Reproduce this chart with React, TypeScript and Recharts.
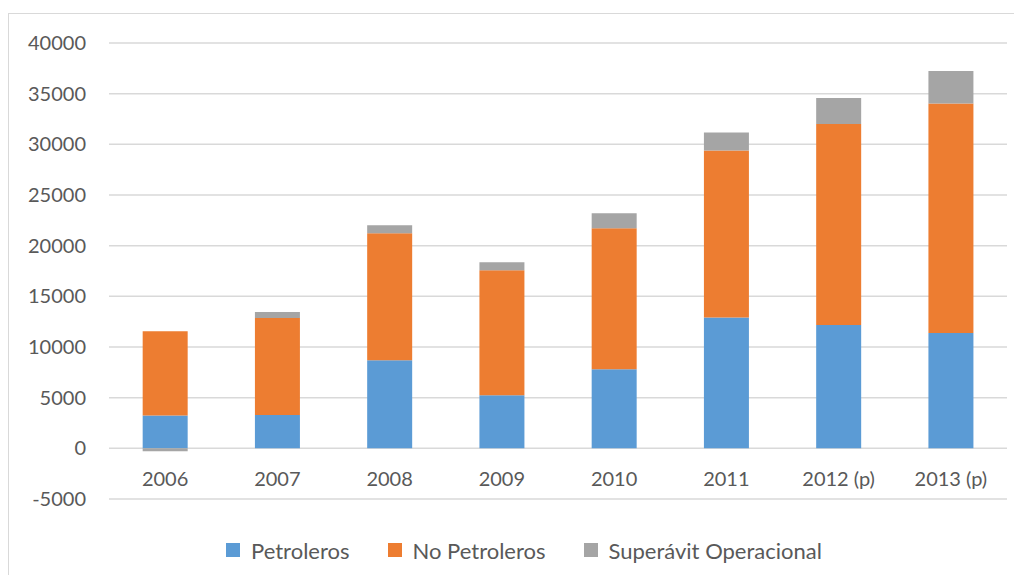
import React from 'react';
import { BarChart, Bar, XAxis, YAxis, CartesianGrid, Legend } from 'recharts';

const years = ['2006', '2007', '2008', '2009', '2010', '2011', '2012 (p)', '2013 (p)'];
const petroleros = [3250, 3300, 8690, 5230, 7800, 12900, 12180, 11390];
const noPetroleros = [8300, 9550, 12540, 12350, 13930, 16500, 19820, 22650];
const superavit = [-300, 600, 790, 790, 1480, 1780, 2570, 3190];
const yTicks = [-5000, 0, 5000, 10000, 15000, 20000, 25000, 30000, 35000, 40000];

const series = [
  { key: 'petroleros', name: 'Petroleros', color: '#5B9BD5' },
  { key: 'noPetroleros', name: 'No Petroleros', color: '#ED7D31' },
  { key: 'superavit', name: 'Superávit Operacional', color: '#A5A5A5' },
];

const data = years.map((year, i) => ({
  year,
  petroleros: petroleros[i],
  noPetroleros: noPetroleros[i],
  superavit: superavit[i],
}));

const FONT = 'Lato, "Open Sans", sans-serif';
const TEXT = '#595959';

const XTick = (props: any) => {
  const { x, y, payload } = props;
  return (
    <text x={x} y={y - 13} textAnchor="middle" fill={TEXT} fontSize={20} fontFamily={FONT}>
      {payload.value}
    </text>
  );
};

const LegendContent = () => (
  <div
    style={{
      display: 'flex',
      justifyContent: 'center',
      alignItems: 'center',
      height: 30,
      paddingLeft: 32,
      fontFamily: FONT,
      fontSize: 22,
      color: TEXT,
    }}
  >
    {series.map((s) => (
      <div key={s.key} style={{ display: 'flex', alignItems: 'center', margin: '0 19px' }}>
        <span style={{ width: 14, height: 14, background: s.color, marginRight: 11, display: 'inline-block' }} />
        <span>{s.name}</span>
      </div>
    ))}
  </div>
);

export default function App() {
  return (
    <div
      style={{
        marginTop: 5,
        width: 1006,
        height: 562,
        borderTop: '1px solid #D9D9D9',
        borderLeft: '1px solid #D9D9D9',
        boxSizing: 'border-box',
        background: '#fff',
      }}
    >
      <BarChart
        width={1005}
        height={561}
        data={data}
        stackOffset="sign"
        barCategoryGap="30%"
        margin={{ top: 29, right: 7, left: 0, bottom: 10 }}
      >
        <CartesianGrid vertical={false} stroke="#D9D9D9" strokeWidth={1.5} />
        <XAxis
          dataKey="year"
          axisLine={false}
          tickLine={false}
          tickSize={0}
          tickMargin={0}
          height={36}
          tick={<XTick />}
          interval={0}
        />
        <YAxis
          domain={[-5000, 40000]}
          ticks={yTicks}
          width={100}
          axisLine={false}
          tickLine={false}
          tickSize={0}
          tickMargin={23}
          tick={{ fill: TEXT, fontSize: 20, fontFamily: FONT }}
        />
        <Legend verticalAlign="bottom" height={30} content={<LegendContent />} />
        {series.map((s) => (
          <Bar key={s.key} dataKey={s.key} name={s.name} stackId="a" fill={s.color} isAnimationActive={false} />
        ))}
      </BarChart>
    </div>
  );
}
